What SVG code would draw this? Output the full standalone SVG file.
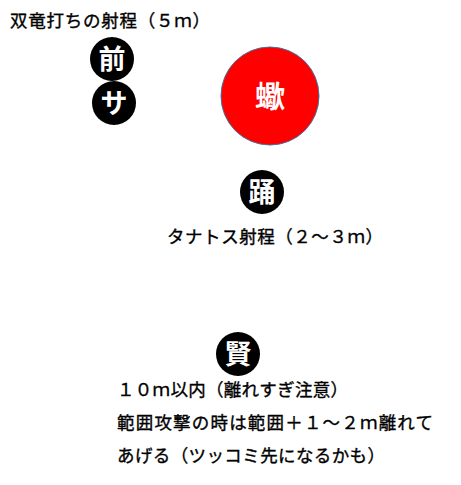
<svg xmlns="http://www.w3.org/2000/svg" width="461" height="485" viewBox="0 0 461 485">
<style>
.t{font-family:"Noto Sans CJK JP","Noto Sans CJK SC",sans-serif;font-size:17.5px;fill:#000;stroke:#000;stroke-width:0.35}
.b{fill:#000}
.c{font-family:"Noto Sans CJK JP","Noto Sans CJK SC",sans-serif;font-size:27px;font-weight:bold;fill:#fff;text-anchor:middle}
</style>
<rect width="461" height="485" fill="#fff"/>
<text class="t" x="10" y="27" textLength="200" lengthAdjust="spacing">双竜打ちの射程（５ｍ）</text>
<g id="mae"><circle class="b" cx="112" cy="59" r="22"/><text class="c" x="112" y="69">前</text></g>
<g id="sa"><circle class="b" cx="114" cy="103" r="22"/><text class="c" x="114" y="113">サ</text></g>
<g id="sasori"><circle cx="270" cy="96" r="49" fill="#ff0000" stroke="#41719c" stroke-width="1"/><text class="c" x="270" y="107" style="font-size:30px">蠍</text></g>
<g id="odori"><circle class="b" cx="262" cy="192" r="22"/><text class="c" x="262" y="202">踊</text></g>
<text class="t" x="167" y="243" textLength="216" lengthAdjust="spacing">タナトス射程（２～３ｍ）</text>
<g id="ken"><circle class="b" cx="238" cy="354" r="22"/><text class="c" x="238" y="364">賢</text></g>
<text class="t" x="117" y="396" textLength="231" lengthAdjust="spacing">１０ｍ以内（離れすぎ注意）</text>
<text class="t" x="117" y="429" textLength="316" lengthAdjust="spacing">範囲攻撃の時は範囲＋１～２ｍ離れて</text>
<text class="t" x="117" y="462" textLength="268" lengthAdjust="spacing">あげる（ツッコミ先になるかも）</text>
<g id="connectors"/>
</svg>
